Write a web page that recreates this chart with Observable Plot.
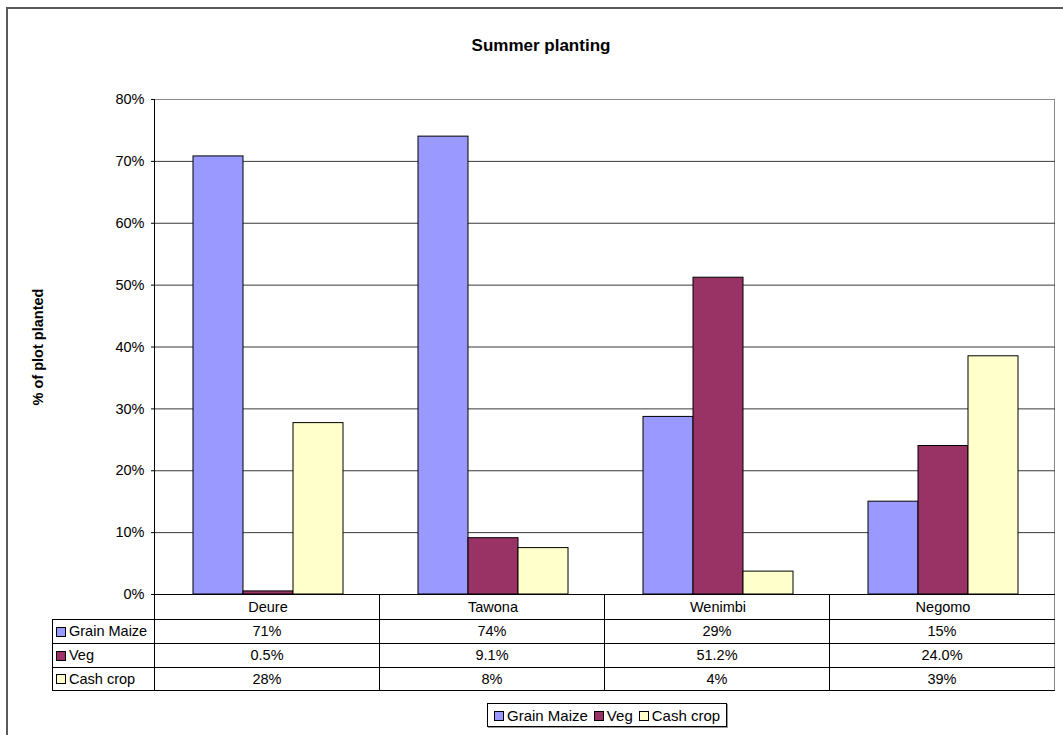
<!DOCTYPE html>
<html>
<head>
<meta charset="utf-8">
<script src="https://cdn.jsdelivr.net/npm/d3@7"></script>
<script src="https://cdn.jsdelivr.net/npm/@observablehq/plot@0.6"></script>
<style>
  html, body { margin: 0; padding: 0; background: #fff; }
  #chart { position: relative; width: 1063px; height: 735px; overflow: hidden; font-family: "Liberation Sans", Arial, sans-serif; color: #000; }
  .abs { position: absolute; }
  #outer { left: 6px; top: 7px; width: 1200px; height: 900px; border-left: 2px solid #5a5a5a; border-top: 2px solid #5a5a5a; }
  #title { top: 36px; left: 0; width: 1082px; text-align: center; font-weight: bold; font-size: 17px; }
  #ylabel { left: 38px; top: 347px; transform: translate(-50%, -50%) rotate(-90deg); font-weight: bold; font-size: 14.5px; white-space: nowrap; }
  #frame { left: 154px; top: 99px; width: 900px; height: 591px; border-top: 1px solid #8a8a8a; border-right: 1px solid #8a8a8a; box-sizing: content-box; }
  #tbl { left: 52px; top: 594px; border-collapse: collapse; font-size: 14.5px; table-layout: fixed; }
  #tbl td { padding: 0; text-align: center; border: 1px solid #000; white-space: nowrap; overflow: hidden; }
  #tbl td.lab { text-align: left; padding-left: 3px; }
  #tbl tr.head td { border-top: none; }
  #tbl tr.head td.corner { border-left: none; }
  #tbl td.last { border-right: 1px solid #8a8a8a; }
  .sw { display: inline-block; width: 8px; height: 8px; border: 1px solid #000; margin-right: 3px; vertical-align: -0.5px; }
  #legend { top: 703px; left: 487px; height: 22px; border: 1px solid #000; display: flex; align-items: center; padding: 0 6px; font-size: 15px; gap: 6px; box-shadow: 1px 1px 0 #999; white-space: nowrap; }
  #plotwrap { left: 0; top: 0; }
</style>
</head>
<body>
<div id="chart">
  <div id="outer" class="abs"></div>
  <div id="frame" class="abs"></div>
  <table id="tbl" class="abs"></table>
  <div id="title" class="abs">Summer planting</div>
  <div id="ylabel" class="abs">% of plot planted</div>
  <div id="legend" class="abs"></div>
  <div id="plotwrap" class="abs"></div>
</div>
<script>
// ---- Data ----
const categories = ["Deure", "Tawona", "Wenimbi", "Negomo"];
const series = ["Grain Maize", "Veg", "Cash crop"];
const colors = ["#9999FF", "#993366", "#FFFFCC"];
const grainMaize = [0.708, 0.740, 0.287, 0.150];
const veg = [0.005, 0.091, 0.512, 0.240];
const cashCrop = [0.277, 0.075, 0.037, 0.385];
const grainMaizeLabels = ["71%", "74%", "29%", "15%"];
const vegLabels = ["0.5%", "9.1%", "51.2%", "24.0%"];
const cashCropLabels = ["28%", "8%", "4%", "39%"];
const yTicks = [0, 0.1, 0.2, 0.3, 0.4, 0.5, 0.6, 0.7, 0.8];
const gridTicks = [0.1, 0.2, 0.3, 0.4, 0.5, 0.6, 0.7];

const seriesValues = [grainMaize, veg, cashCrop];
const seriesLabels = [grainMaizeLabels, vegLabels, cashCropLabels];

const rows = [];
categories.forEach((c, i) => {
  series.forEach((s, j) => rows.push({category: c, series: s, value: seriesValues[j][i]}));
});

// ---- Plot ----
const chart = Plot.plot({
  width: 1063,
  height: 625,
  marginLeft: 154,
  marginRight: 8,
  marginTop: 99,
  marginBottom: 31,
  style: {background: "transparent", fontFamily: "'Liberation Sans', Arial, sans-serif", fontSize: "14.5px", color: "#000", overflow: "visible"},
  facet: {data: rows, x: "category"},
  fx: {domain: categories, padding: 0, label: null, axis: "bottom", tickSize: 0, tickPadding: 7},
  x: {domain: series, paddingInner: 0, paddingOuter: 0.75, axis: null},
  y: {domain: [0, 0.8], ticks: yTicks, tickFormat: d3.format(".0%"), tickSize: 4, tickPadding: 7, label: null},
  color: {domain: series, range: colors},
  marks: [
    Plot.ruleY(gridTicks, {stroke: "#3a3a3a", strokeWidth: 1}),
    Plot.barY(rows, {x: "series", y: "value", fill: "series", stroke: "#000", strokeWidth: 1}),
    Plot.ruleY([0], {stroke: "#000", strokeWidth: 1})
  ]
});
document.getElementById("plotwrap").appendChild(chart);

// left axis line (y axis domain line)
const yScale = chart.scale("y");
const axisLine = document.createElement("div");
axisLine.className = "abs";
axisLine.style.cssText = `left:153.5px; top:${yScale.range[1]}px; width:1px; height:${yScale.range[0] - yScale.range[1]}px; background:#000;`;
document.getElementById("chart").appendChild(axisLine);

// ---- Data table ----
const tbl = document.getElementById("tbl");
const colW = [102, 225, 225, 225, 225];
const cg = document.createElement("colgroup");
colW.forEach(w => { const col = document.createElement("col"); col.style.width = w + "px"; cg.appendChild(col); });
tbl.appendChild(cg);
const head = document.createElement("tr");
head.className = "head";
head.style.height = "25px";
const corner = document.createElement("td");
corner.className = "corner";
head.appendChild(corner);
categories.forEach((c, i) => {
  const td = document.createElement("td");
  if (i === categories.length - 1) td.className = "last";
  head.appendChild(td);
});
tbl.appendChild(head);
const rowH = [24, 24, 23];
series.forEach((s, j) => {
  const tr = document.createElement("tr");
  tr.style.height = rowH[j] + "px";
  const lab = document.createElement("td");
  lab.className = "lab";
  lab.innerHTML = `<span class="sw" style="background:${colors[j]}"></span>${s}`;
  tr.appendChild(lab);
  seriesLabels[j].forEach((t, i) => {
    const td = document.createElement("td");
    if (i === categories.length - 1) td.className = "last";
    td.textContent = t;
    tr.appendChild(td);
  });
  tbl.appendChild(tr);
});

// ---- Legend ----
const legend = document.getElementById("legend");
series.forEach((s, j) => {
  const item = document.createElement("span");
  item.innerHTML = `<span class="sw" style="background:${colors[j]}"></span>${s}`;
  legend.appendChild(item);
});
</script>
</body>
</html>
